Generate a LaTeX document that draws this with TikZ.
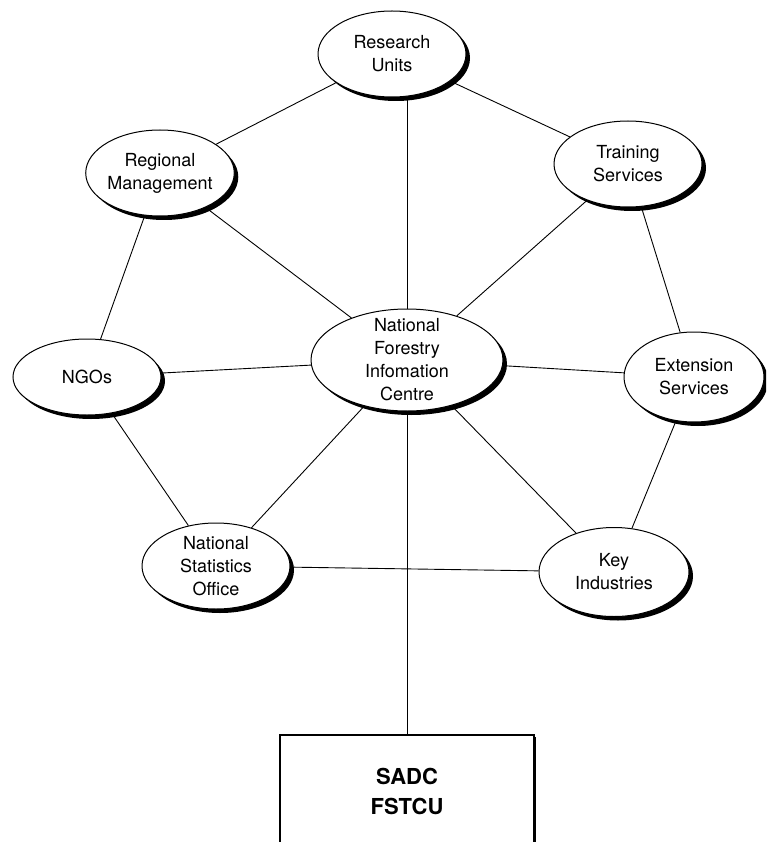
\documentclass[tikz,border=0pt]{standalone}
\usepackage{fontspec}
\setmainfont{TeX Gyre Heros}
\usetikzlibrary{shapes.geometric, shadows}

\begin{document}
\begin{tikzpicture}[x=1pt, y=-1pt,
    every node/.style={font=\fontsize{18}{23}\selectfont, align=center},
    unit/.style={ellipse, draw, line width=1pt, fill=white, inner sep=0pt,
        minimum width=148pt, minimum height=86pt,
        drop shadow={shadow xshift=4pt, shadow yshift=-4pt, fill=black, opacity=1}},
    link/.style={line width=0.9pt}]

% Page size
\useasboundingbox (0,0) rectangle (766,842);
\clip (0,0) rectangle (766,842);

% Central node
\node[unit, minimum width=192pt, minimum height=102pt, inner ysep=-8pt] (centre) at (407,360) {National\\Forestry\\Infomation\\Centre};

% Surrounding units
\node[unit] (research) at (392,54) {Research\\Units};
\node[unit] (regional) at (160,173) {Regional\\Management};
\node[unit] (training) at (628,164) {Training\\Services};
\node[unit, minimum height=76pt] (ngos) at (87,377) {NGOs};
\node[unit, minimum width=140pt, minimum height=90pt] (extension) at (694,377) {Extension\\Services};
\node[unit] (natstat) at (216,566) {National\\Statistics\\Office};
\node[unit, minimum width=150pt, minimum height=89pt] (key) at (614,572) {Key\\Industries};

% SADC unit
\node[draw, line width=1.6pt, fill=white, minimum width=254pt, minimum height=112pt,
    font=\bfseries\fontsize{22}{30}\selectfont,
    drop shadow={shadow xshift=2pt, shadow yshift=-2pt, fill=black, opacity=1}] (fstcu) at (407,791) {SADC\\FSTCU};

% Connections
\foreach \a/\b in {research/regional, research/training, regional/ngos, regional/centre,
    training/centre, training/extension, ngos/centre, extension/centre,
    ngos/natstat, natstat/centre, key/centre, extension/key, natstat/key} {
    \draw[link] (\a) -- (\b);
}
\draw[link] (centre.north) -- (centre.north |- research.south);
\draw[link] (centre) -- (fstcu);

\end{tikzpicture}
\end{document}
